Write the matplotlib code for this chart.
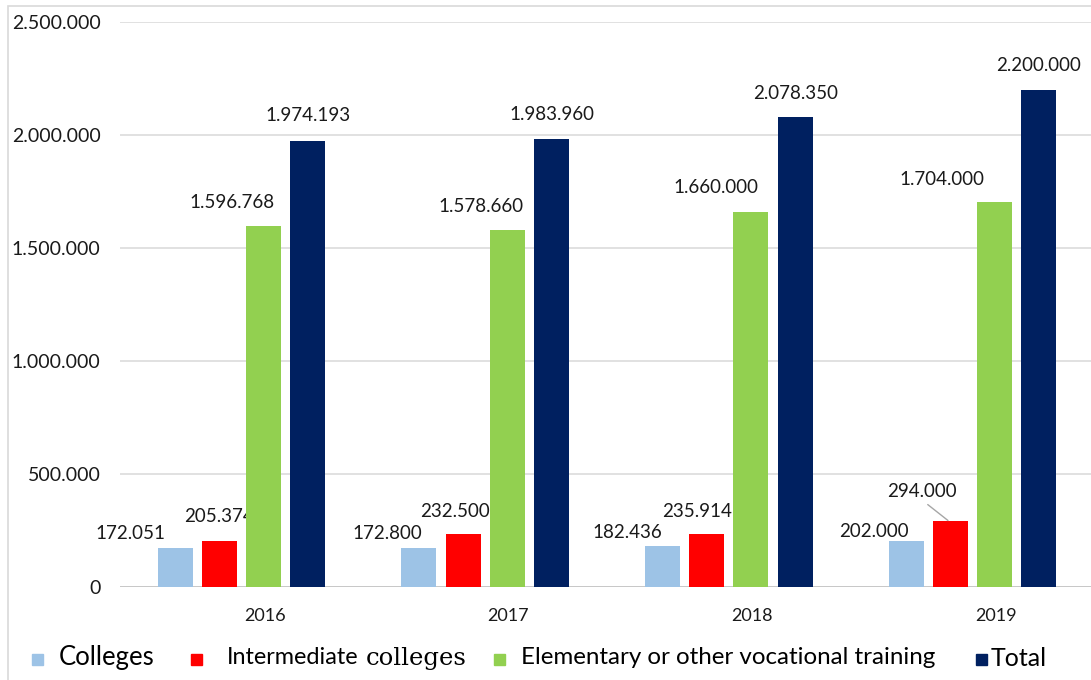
import numpy as np
import matplotlib.pyplot as plt
from matplotlib.patches import Rectangle
from matplotlib.ticker import FuncFormatter

years = ["2016", "2017", "2018", "2019"]
series_names = ["Colleges", "Intermediate colleges",
                "Elementary or other vocational training", "Total"]
colleges = [172051, 172800, 182436, 202000]
intermediate = [205374, 232500, 235914, 294000]
elementary = [1596768, 1578660, 1660000, 1704000]
total = [1974193, 1983960, 2078350, 2200000]
colors = ["#9DC3E6", "#FF0000", "#92D050", "#002060"]

# where the data labels were dragged to (pixels from the bar top centre)
label_offsets = [
    [(-45, 15), (-32, 14), (-35, 13), (-32, 10)],
    [(0, 24), (-8, 23), (-10, 22), (-26, 29)],
    [(-32, 24), (-26, 24), (-35, 24), (-53, 22)],
    [(0, 25), (0, 24), (0, 24), (0, 24)],
]

W, H = 1091, 680
FONT = "Lato"


def dots(v):
    return f"{int(v):,}".replace(",", ".")


def px(x, y):
    # pixel position -> figure fraction
    return x / W, 1 - y / H


fig = plt.figure(figsize=(W / 100, H / 100), dpi=100)
ax = fig.add_axes([120 / W, (H - 587) / H, (W - 120) / W, (587 - 22) / H])

data = [colleges, intermediate, elementary, total]
x = np.arange(len(years))
step = 0.1814
width = 0.1436

for j, vals in enumerate(data):
    xs = x + (j - 1.5) * step
    ax.bar(xs, vals, width, color=colors[j], zorder=3)
    for i, v in enumerate(vals):
        dx, dy = label_offsets[j][i]
        if j == 1 and i == 3:
            ax.annotate(dots(v), xy=(xs[i] - 0.01, v), xytext=(dx, dy),
                        textcoords="offset pixels", ha="center", va="center",
                        fontsize=13.5, family=FONT, color="#1a1a1a",
                        arrowprops=dict(arrowstyle="-", color="#a6a6a6", lw=1,
                                        shrinkA=2, shrinkB=0, relpos=(0.5, 0)))
        else:
            ax.annotate(dots(v), xy=(xs[i], v), xytext=(dx, dy),
                        textcoords="offset pixels", ha="center", va="center",
                        fontsize=13.5, family=FONT, color="#1a1a1a")

ax.set_ylim(0, 2500000)
ax.set_xlim(-0.4986, 3.486)
ax.set_yticks(np.arange(0, 2500001, 500000))
ax.yaxis.set_major_formatter(FuncFormatter(lambda v, p: dots(v)))
ax.set_xticks(x + 0.095, years)
ax.grid(axis="y", color="#d9d9d9", lw=1.1, zorder=0)
for s in ax.spines.values():
    s.set_visible(False)
ax.axhline(0, color="#c4c4c4", lw=1.2, zorder=2)
ax.tick_params(axis="y", length=0, pad=14, labelsize=14, labelcolor="#1a1a1a")
ax.tick_params(axis="x", length=0, pad=15, labelsize=13, labelcolor="#1a1a1a")
for lab in ax.get_xticklabels() + ax.get_yticklabels():
    lab.set_family(FONT)

# thin frame of the original picture
fig.add_artist(Rectangle((8 / W, -0.1), 2, 1 - 6 / H + 0.1,
                         transform=fig.transFigure, fill=False,
                         edgecolor="#d9d9d9", lw=1.2))

# legend, built by hand because one label mixes two fonts
ty = 658
sq = 11
for xs_, c in zip([32, 191, 494, 976], colors):
    fx, fy = px(xs_, ty + sq / 2 + 1)
    fig.add_artist(Rectangle((fx, fy), sq / W, sq / H, transform=fig.transFigure,
                             color=c))
fig.text(*px(59, ty), series_names[0], fontsize=18.5, family=FONT, va="center")
fig.text(*px(227, ty), "Intermediate", fontsize=16.8, family=FONT, va="center")
fig.text(*px(366, ty), "colleges", fontsize=17.5, family="DejaVu Serif", va="center")
fig.text(*px(521, ty), series_names[2], fontsize=17.4, family=FONT, va="center")
fig.text(*px(991, ty), series_names[3], fontsize=18, family=FONT, va="center")

fig.savefig("out.png", dpi=100, facecolor="white")
